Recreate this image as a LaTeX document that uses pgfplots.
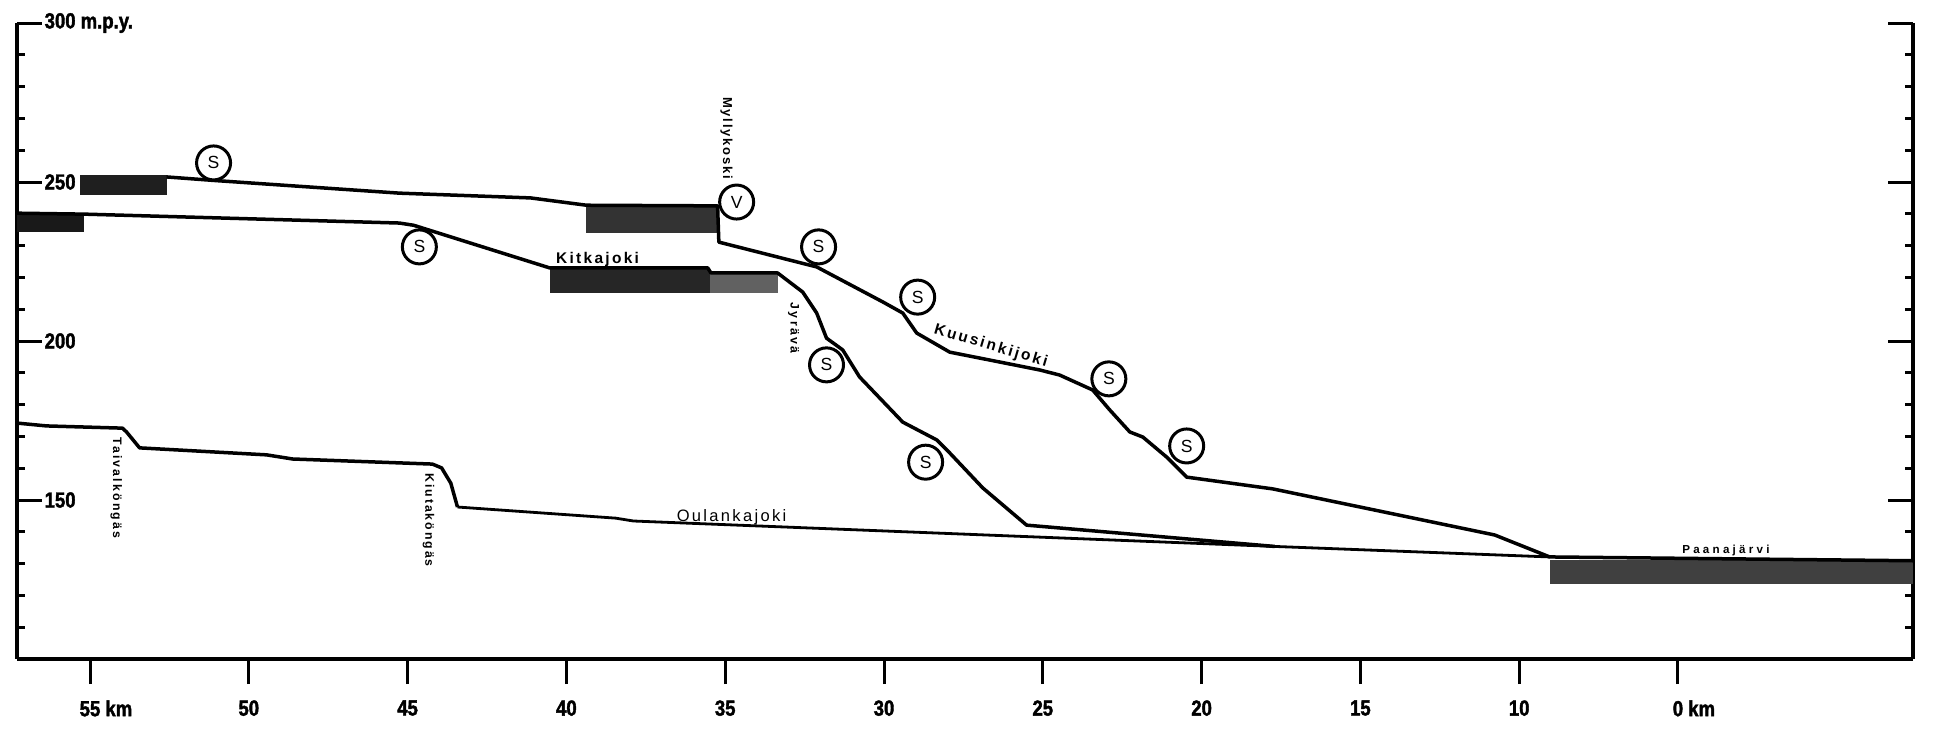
\documentclass[border=0pt]{standalone}
\usepackage{pgfplots}
\pgfplotsset{compat=1.18}
\usepackage{fontspec}
\setmainfont{Liberation Sans}
\newfontfamily\tickfont{Liberation Sans}[FakeStretch=0.85,FakeBold=1.8]
\newfontfamily\lab{Liberation Sans}
\newcommand\lf[3]{\fontsize{#1}{#1}\lab#3\addfontfeatures{LetterSpace=#2}}
\pgfplotsset{myax/.style={at={(1.7mm,7.3mm)}, anchor=south west, scale only axis,
  width=189.6mm, height=63.6mm, xmin=-2.4, xmax=57.3, ymin=100, ymax=300,
  x dir=reverse, clip=false, axis line style={line width=0.4mm},
  major tick length=2.5mm, minor tick length=0.8mm,
  tick style={line width=0.3mm, black},
  ticklabel style={font=\fontsize{6.2}{7}\tickfont\bfseries}}}
\tikzset{sc/.style={circle, draw, line width=0.3mm, fill=white, minimum size=3.4mm,
  inner sep=0pt, font=\fontsize{5}{5}\lab}}
\begin{document}
\begin{tikzpicture}
\path[use as bounding box] (0,0) rectangle (19.38,7.32);
% right axis
\begin{axis}[myax, axis y line*=right, axis x line=none, tick align=inside,
  ytick={150,200,250,300}, minor ytick={110,120,...,290},
  yticklabels={\mbox{},\mbox{},\mbox{},\mbox{}}]
\end{axis}
% left axis
\begin{axis}[myax, axis y line*=left, axis x line=none, tick align=inside,
  ytick={150,200,250,300}, minor ytick={110,120,...,290},
  yticklabels={150,200,250,300 m.p.y.},
  yticklabel style={anchor=west, xshift=2.7mm, inner sep=0pt}]
\end{axis}
% bottom axis and data
\begin{axis}[myax, axis x line*=bottom, axis y line=none, tick align=outside,
  xtick={5,10,...,55},
  xticklabels={0\rlap{ km},10,15,20,25,30,35,40,45,50,55\rlap{ km}},
  xticklabel style={yshift=-0.4mm}]
% lakes
\addplot[fill=black!88, draw=none] coordinates {(55.33,252.2) (52.59,252.2) (52.59,245.9) (55.33,245.9)} -- cycle;
\addplot[fill=black!80, draw=none] coordinates {(39.37,242.5) (35.24,242.5) (35.24,234.0) (39.37,234.0)} -- cycle;
\addplot[fill=black!90, draw=none] coordinates {(57.3,240.3) (55.18,240.3) (55.18,234.3) (57.3,234.3)} -- cycle;
\addplot[fill=black!85, draw=none] coordinates {(40.53,223.0) (35.49,223.0) (35.49,215.1) (40.53,215.1)} -- cycle;
\addplot[fill=black!62, draw=none] coordinates {(35.49,221.4) (33.35,221.4) (33.35,215.1) (35.49,215.1)} -- cycle;
\addplot[fill=black!75, draw=none] coordinates {(9.04,131.1) (-2.4,131.1) (-2.4,123.6) (9.04,123.6)} -- cycle;
% line A (Myllykoski - Kuusinkijoki)
\addplot[line width=0.35mm, line join=round] coordinates {
(52.59,251.6) (51.11,250.5) (45.26,246.5) (41.13,245.0) (39.37,242.7) (35.24,242.5)
(35.20,231.1) (32.12,223.3) (30.04,212.3) (29.41,208.8) (28.97,202.5) (27.93,196.5)
(26.36,193.4) (25.10,190.9) (24.47,189.3) (23.43,184.6) (22.89,178.3) (22.26,171.4)
(21.85,169.8) (21.10,163.5) (20.47,157.2) (17.76,153.5) (10.77,139.0) (9.04,132.1)
(-2.4,130.9)};
% line B (Kitkajoki - Jyrava)
\addplot[line width=0.35mm, line join=round] coordinates {
(57.3,240.2) (55.18,239.9) (45.26,237.1) (44.81,236.4) (40.53,223.0) (35.55,223.0)
(35.45,221.4) (33.35,221.4) (32.56,215.4) (32.12,208.8) (31.81,200.9) (31.30,197.2)
(30.77,188.7) (29.41,174.5) (28.34,168.9) (27.93,164.8) (26.89,153.8) (25.51,142.1)
(17.70,135.4)};
% line C (Oulankajoki)
\addplot[line width=0.35mm, line join=round] coordinates {
(57.3,174.2) (56.37,173.3) (53.98,172.6) (53.85,171.4) (53.44,166.4) (49.44,164.2)
(48.62,162.9) (44.22,161.3) (43.93,160.1) (43.64,155.3) (43.43,147.8)};
\addplot[line width=0.28mm, line join=round] coordinates {
(43.43,147.8) (38.45,144.3) (37.89,143.4) (17.70,135.4) (9.04,132.1)};
% circles
\node[sc] at (axis cs:51.11,256.0) {S};
\node[sc] at (axis cs:44.63,229.6) {S};
\node[sc] at (axis cs:34.64,243.7) {V};
\node[sc] at (axis cs:32.06,229.6) {S};
\node[sc] at (axis cs:28.94,213.8) {S};
\node[sc] at (axis cs:31.81,192.5) {S};
\node[sc] at (axis cs:22.92,188.1) {S};
\node[sc] at (axis cs:28.69,161.9) {S};
\node[sc] at (axis cs:20.47,167.0) {S};
% labels
\node[font=\lf{4.4}{15}{\bfseries}, inner sep=0pt] at (axis cs:39.02,225.6) {Kitkajoki};
\node[font=\lf{4.4}{15}{\bfseries}, inner sep=0pt, rotate=-16.4] at (axis cs:26.64,198.4) {Kuusinkijoki};
\node[font=\lf{4.7}{14}{}, inner sep=0pt] at (axis cs:34.80,144.6) {Oulankajoki};
\node[font=\lf{3.3}{28}{\bfseries}, inner sep=0pt] at (axis cs:3.49,134.0) {Paanajärvi};
\node[font=\lf{3.7}{14}{\bfseries}, inner sep=0pt, rotate=-90] at (axis cs:34.96,263.8) {Myllykoski};
\node[font=\lf{3.5}{18}{\bfseries}, inner sep=0pt, rotate=-90] at (axis cs:32.85,204.1) {Jyrävä};
\node[font=\lf{3.5}{18}{\bfseries}, inner sep=0pt, rotate=-90] at (axis cs:54.17,153.8) {Taivalköngäs};
\node[font=\lf{3.5}{16}{\bfseries}, inner sep=0pt, rotate=-90] at (axis cs:44.34,143.7) {Kiutaköngäs};
\end{axis}
\end{tikzpicture}
\end{document}
